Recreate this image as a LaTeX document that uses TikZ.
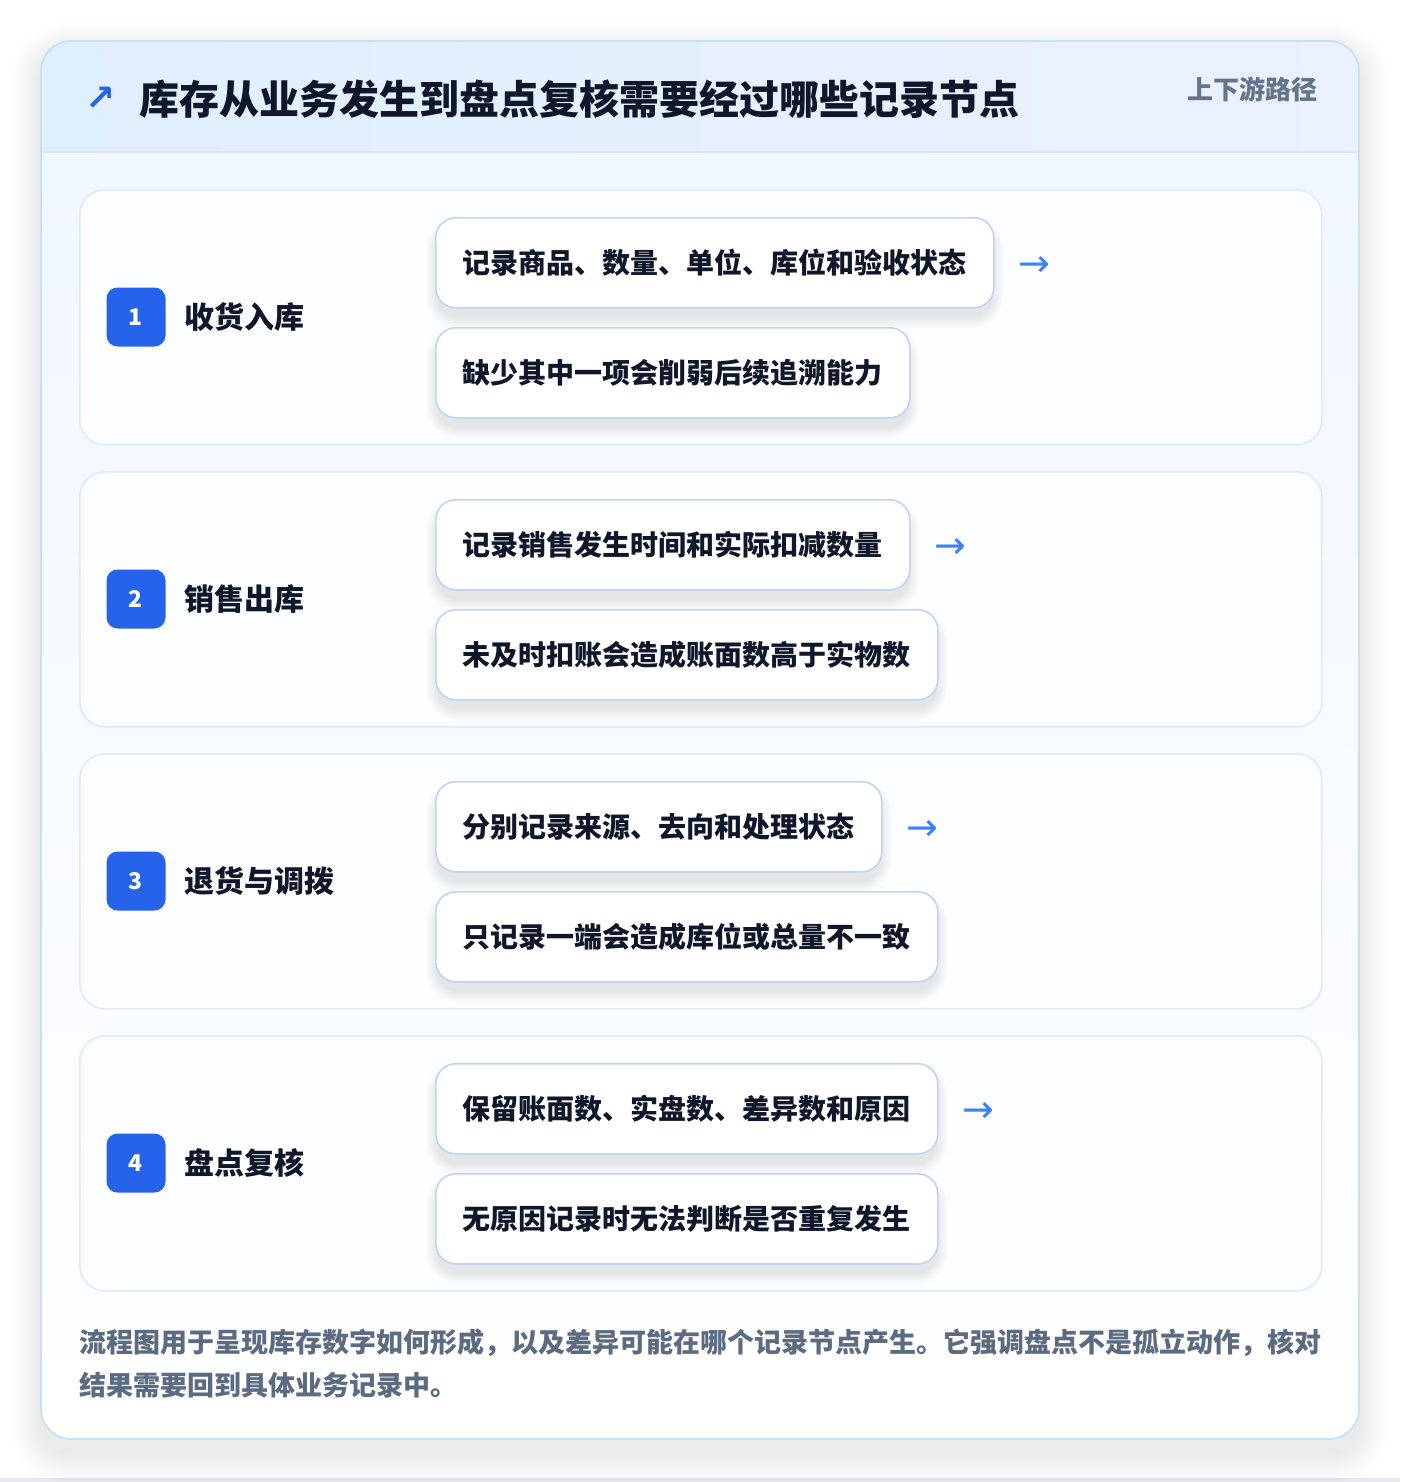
\documentclass[tikz,border=0pt]{standalone}
\usepackage{fontspec}
\setmainfont{Noto Sans CJK SC}
\newfontfamily\symfont{DejaVu Sans}
\usetikzlibrary{positioning}
\pgfdeclarelayer{back}
\pgfdeclarelayer{shade}
\pgfsetlayers{back,shade,main}
\definecolor{ink}{HTML}{0F172A}
\definecolor{muted}{HTML}{5B6B82}
\definecolor{tagc}{HTML}{64748B}
\definecolor{brand}{HTML}{2563EB}
\definecolor{arrowc}{HTML}{3B82F6}
\definecolor{outline}{HTML}{C5E1F7}
\definecolor{cardline}{HTML}{DCEAFB}
\definecolor{subline}{HTML}{BDD5F3}
\definecolor{hdrL}{HTML}{E0EFFD}
\definecolor{hdrR}{HTML}{EBF1FE}
\definecolor{bodyT}{HTML}{F1F7FF}
\definecolor{cardfill}{HTML}{FCFDFF}
\definecolor{hdrline}{HTML}{D5E6F8}
\definecolor{pagebot}{HTML}{E6E8EC}
\definecolor{shadowc}{HTML}{1E293B}
\tikzset{
  cardbox/.style={draw=cardline, line width=1.6pt, fill=cardfill, rounded corners=25pt,
    minimum width=1242pt, minimum height=255pt, anchor=north west, inner sep=0pt},
  badge/.style={fill=brand, rounded corners=11pt, minimum size=59pt, inner sep=0pt,
    text=white, font=\bfseries\fontsize{23}{26}\selectfont},
  steplabel/.style={anchor=west, inner sep=0pt, text=ink, font=\bfseries\fontsize{30}{36}\selectfont},
  subbox/.style={draw=subline, line width=1.6pt, fill=white, rounded corners=20pt,
    minimum height=90pt, inner xsep=27pt, inner ysep=0pt, anchor=north west, text=ink,
    font=\bfseries\fontsize{28}{34}\selectfont},
  flowarrow/.style={inner sep=0pt, text=arrowc, font=\symfont\fontsize{38}{40}\selectfont},
  foot/.style={anchor=west, inner sep=0pt, text=muted, font=\bfseries\fontsize{27}{32}\selectfont},
  shadowlayer/.style={fill=shadowc, fill opacity=0.006}
}
% soft shadow under a named node
\newcommand{\nodeshadow}[1]{%
  \begin{pgfonlayer}{shade}
  \foreach \i in {1,...,12}{
    \fill[shadowlayer, rounded corners=20pt+\i pt]
      ([xshift=-\i pt+3pt, yshift=\i pt-12pt]#1.north west) rectangle
      ([xshift=\i pt-3pt, yshift=-\i pt-8pt]#1.south east);
  }
  \end{pgfonlayer}}
\begin{document}
\begin{tikzpicture}[x=1pt,y=-1pt]
\useasboundingbox (0,0) rectangle (1400,1482);
\begin{pgfonlayer}{back}
\fill[white] (0,0) rectangle (1400,1482);
\fill[pagebot] (0,1478) rectangle (1400,1482);
% outer card shadow
\foreach \i in {1,...,20}{
  \fill[fill=shadowc, fill opacity=0.0035, rounded corners=30pt+1.6*\i pt]
    (41-1.6*\i,53-1.6*\i) rectangle (1359+1.6*\i,1453+1.6*\i);
}
\fill[white, rounded corners=30pt] (41,41) rectangle (1359,1439);
\begin{scope}
  \clip[rounded corners=30pt] (41,41) rectangle (1359,1439);
  \shade[top color=bodyT, bottom color=white] (41,152) rectangle (1359,1439);
  \shade[left color=hdrL, right color=hdrR] (41,41) rectangle (1359,152);
  \draw[hdrline, line width=1.5pt] (41,152) -- (1359,152);
\end{scope}
\draw[outline, line width=1.8pt, rounded corners=30pt] (41,41) rectangle (1359,1439);
\node[cardbox] (card1) at (79,189) {};
\node[cardbox] (card2) at (79,471) {};
\node[cardbox] (card3) at (79,753) {};
\node[cardbox] (card4) at (79,1035) {};
\end{pgfonlayer}
% header
\node[inner sep=0pt, text=brand, font=\symfont\bfseries\fontsize{36}{40}\selectfont] (icon) at (101,99) {↗};
\node[anchor=west, inner sep=0pt, text=ink, font=\bfseries\fontsize{40}{48}\selectfont] (title) at (139,99) {库存从业务发生到盘点复核需要经过哪些记录节点};
\node[anchor=east, inner sep=0pt, text=tagc, font=\bfseries\fontsize{26}{30}\selectfont] (tag) at (1318,89) {上下游路径};
% row 1
\node[badge] (b1) at (136,317) {1};
\node[steplabel] (l1) at (184,317) {收货入库};
\node[subbox] (s1a) at (435,217) {记录商品、数量、单位、库位和验收状态};
\node[subbox] (s1b) at (435,327) {缺少其中一项会削弱后续追溯能力};
\node[flowarrow] (a1) at ([xshift=40pt,yshift=-4pt]s1a.east) {→};
% row 2
\node[badge] (b2) at (136,599) {2};
\node[steplabel] (l2) at (184,599) {销售出库};
\node[subbox] (s2a) at (435,499) {记录销售发生时间和实际扣减数量};
\node[subbox] (s2b) at (435,609) {未及时扣账会造成账面数高于实物数};
\node[flowarrow] (a2) at ([xshift=40pt,yshift=-4pt]s2a.east) {→};
% row 3
\node[badge] (b3) at (136,881) {3};
\node[steplabel] (l3) at (184,881) {退货与调拨};
\node[subbox] (s3a) at (435,781) {分别记录来源、去向和处理状态};
\node[subbox] (s3b) at (435,891) {只记录一端会造成库位或总量不一致};
\node[flowarrow] (a3) at ([xshift=40pt,yshift=-4pt]s3a.east) {→};
% row 4
\node[badge] (b4) at (136,1163) {4};
\node[steplabel] (l4) at (184,1163) {盘点复核};
\node[subbox] (s4a) at (435,1063) {保留账面数、实盘数、差异数和原因};
\node[subbox] (s4b) at (435,1173) {无原因记录时无法判断是否重复发生};
\node[flowarrow] (a4) at ([xshift=40pt,yshift=-4pt]s4a.east) {→};
% shadows of the record boxes
\nodeshadow{s1a}\nodeshadow{s1b}\nodeshadow{s2a}\nodeshadow{s2b}
\nodeshadow{s3a}\nodeshadow{s3b}\nodeshadow{s4a}\nodeshadow{s4b}
% footer
\node[foot] (f1) at (79,1343) {流程图用于呈现库存数字如何形成，以及差异可能在哪个记录节点产生。它强调盘点不是孤立动作，核对};
\node[foot] (f2) at (79,1385) {结果需要回到具体业务记录中。};
\end{tikzpicture}
\end{document}
